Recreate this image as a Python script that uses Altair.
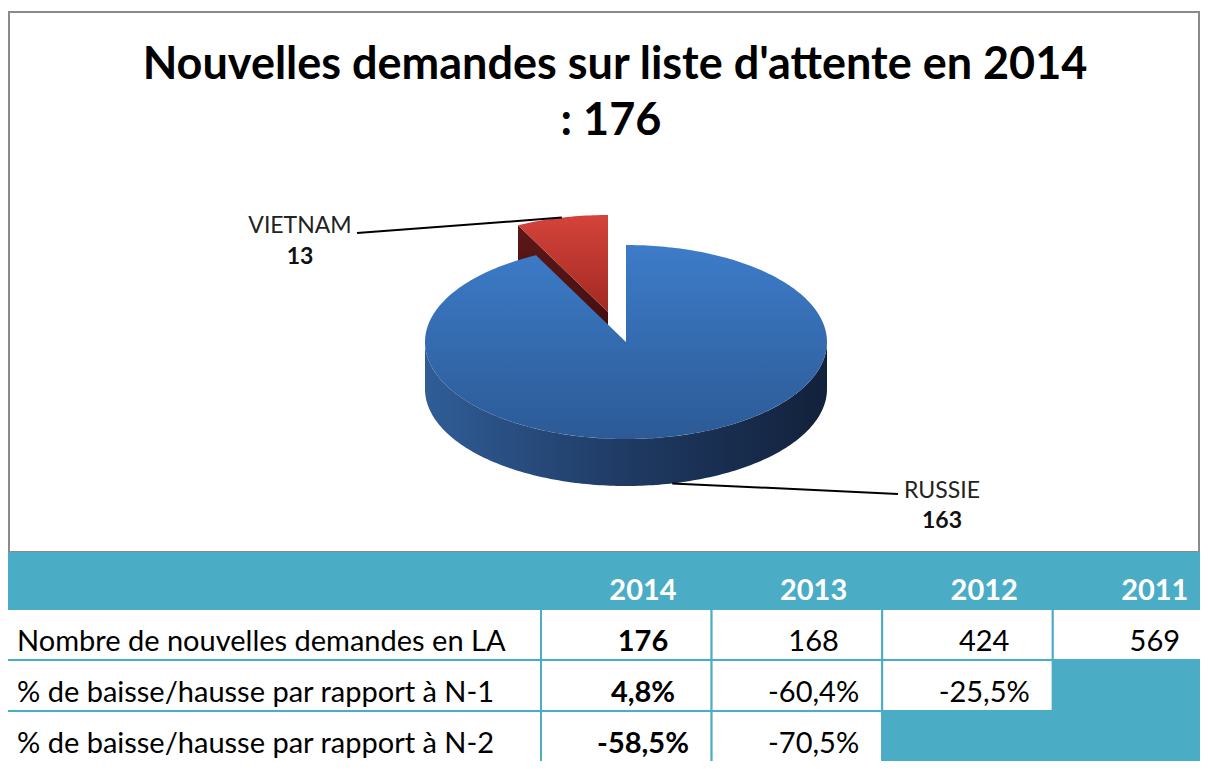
import altair as alt
import numpy as np
import pandas as pd

# ---------------- data ----------------
slice_names = ["RUSSIE", "VIETNAM"]
slice_values = [163, 13]
title_lines = ["Nouvelles demandes sur liste d'attente en 2014", ": 176"]

years = ["2014", "2013", "2012", "2011"]
row_labels = [
    "Nombre de nouvelles demandes en LA",
    "% de baisse/hausse par rapport à N-1",
    "% de baisse/hausse par rapport à N-2",
]
nombre = ["176", "168", "424", "569"]
pct_n1 = ["4,8%", "-60,4%", "-25,5%", ""]
pct_n2 = ["-58,5%", "-70,5%", "", ""]
table_rows = [nombre, pct_n1, pct_n2]

# ---------------- layout (page pixels) ----------------
W, H = 1192, 753
FONT = "Lato"
TEAL = "#4bacc6"
CX, CY, RX, RY, DEPTH = 626, 342, 201, 97, 47
EXPLODE = {"VIETNAM": (-18, -30)}
LABELS = {  # text centre x, leader end x, leader end y, name baseline, value baseline
    "VIETNAM": (300, 357, 233, 233, 264),
    "RUSSIE": (942, 898, 494, 498, 528),
}
TX0, LABEL_X1, COL_W = 7, 541, 170.6
ROW_Y = [553, 609, 660, 711, 770]
TEXT_DY = 42

xs = alt.Scale(domain=[8, 8 + W], range=[0, W], nice=False, zero=False)
ys = alt.Scale(domain=[8, 8 + H], range=[0, H], nice=False, zero=False)


def X(f):
    return alt.X(f, type="quantitative", scale=xs, axis=None)


def Y(f):
    return alt.Y(f, type="quantitative", scale=ys, axis=None)


def grad(stops, horizontal=False):
    return {
        "gradient": "linear",
        "x1": 0, "y1": 0,
        "x2": 1 if horizontal else 0, "y2": 0 if horizontal else 1,
        "stops": [{"offset": o, "color": c} for o, c in stops],
    }


# ---------------- pie geometry from the values ----------------
total = sum(slice_values)
geo = {}
acc = 0
for name, v in zip(slice_names, slice_values):
    a0 = 2 * np.pi * acc / total
    acc += v
    a1 = 2 * np.pi * acc / total
    dx, dy = EXPLODE.get(name, (0, 0))
    geo[name] = (a0, a1, dx, dy)


def pt(a, dx, dy, down=0.0):
    return (CX + dx + RX * np.sin(a), CY + dy - RY * np.cos(a) + down)


rows = []


def add_poly(part, pts):
    for i, (x, y) in enumerate(pts):
        rows.append({"part": part, "i": i, "x": x, "y": y})


for name in slice_names:
    a0, a1, dx, dy = geo[name]
    n = max(6, int(np.degrees(a1 - a0)))
    arc = [pt(a, dx, dy) for a in np.linspace(a0, a1, n)]
    add_poly(name + "_top", [(CX + dx, CY + dy)] + arc + [(CX + dx, CY + dy)])
    s0, s1 = max(a0, np.pi / 2), min(a1, 3 * np.pi / 2)
    if s1 > s0:
        m = max(6, int(np.degrees(s1 - s0)))
        top = [pt(a, dx, dy) for a in np.linspace(s0, s1, m)]
        bot = [pt(a, dx, dy, DEPTH) for a in np.linspace(s1, s0, m)]
        add_poly(name + "_side", top + bot)
    if name == "VIETNAM":
        o = pt(a0, dx, dy)
        add_poly(name + "_wall", [(CX + dx, CY + dy), o, (o[0], o[1] + DEPTH),
                                  (CX + dx, CY + dy + DEPTH)])

poly_df = pd.DataFrame(rows)


def face(part, fill):
    return alt.Chart(poly_df).transform_filter(
        alt.datum.part == part
    ).mark_line(filled=True, fill=fill, strokeWidth=0).encode(
        x=X("x"), y=Y("y"), order=alt.Order("i:Q")
    )


vn_wall = face("VIETNAM_wall", grad([(0, "#5e1818"), (1, "#3c0c0c")]))
vn_top = face("VIETNAM_top", grad([(0, "#d4433b"), (1, "#a32923")]))
ru_side = face("RUSSIE_side", grad([(0, "#305d97"), (0.5, "#1f3a63"), (1, "#12213b")], True))
ru_top = face("RUSSIE_top", grad([(0, "#3d7cc9"), (1, "#2c5a96")]))

# ---------------- leaders and labels ----------------
lead = []
for name, v in zip(slice_names, slice_values):
    a0, a1, dx, dy = geo[name]
    am = (a0 + a1) / 2
    down = DEPTH if np.cos(am) < 0 else 0
    sx, sy = pt(am, dx, dy, down)
    tx, ex, ey, yn, yv = LABELS[name]
    lead.append({"name": name, "value": str(v), "sx": sx, "sy": sy, "ex": ex, "ey": ey,
                 "tx": tx, "yn": yn, "yv": yv})
lead_df = pd.DataFrame(lead)

leaders = alt.Chart(lead_df).mark_rule(color="#000000", strokeWidth=2).encode(
    x=X("sx"), y=Y("sy"), x2="ex", y2="ey")
lab_names = alt.Chart(lead_df).mark_text(font=FONT, fontSize=23, color="#222222",
                                         align="center", baseline="alphabetic").encode(
    x=X("tx"), y=Y("yn"), text="name:N")
lab_vals = alt.Chart(lead_df).mark_text(font=FONT, fontSize=23, fontWeight="bold",
                                        color="#111111", align="center",
                                        baseline="alphabetic").encode(
    x=X("tx"), y=Y("yv"), text="value:N")

# ---------------- chart frame and title ----------------
frame_df = pd.DataFrame([{"x0": 9, "x1": 1199, "y0": 12, "y1": 552}])
frame = alt.Chart(frame_df).mark_rect(fill="white", stroke="#8a8a8a", strokeWidth=2).encode(
    x=X("x0"), x2="x1", y=Y("y0"), y2="y1")

title_df = pd.DataFrame({"t": title_lines, "x": [615, 611], "y": [79, 135]})
title = alt.Chart(title_df).mark_text(font=FONT, fontSize=45, fontWeight="bold",
                                      color="#000000", align="center",
                                      baseline="alphabetic").encode(
    x=X("x"), y=Y("y"), text="t:N")

# ---------------- table ----------------
col_x0 = [LABEL_X1 + k * COL_W for k in range(len(years))]
cells = [{"x0": TX0, "x1": col_x0[-1] + COL_W, "y0": ROW_Y[0], "y1": ROW_Y[1], "f": TEAL}]
texts = []
for k, yv in enumerate(years):
    texts.append({"t": yv, "x": col_x0[k] + 102, "y": ROW_Y[1] - 9, "s": "head"})
for r, (lab, vals) in enumerate(zip(row_labels, table_rows)):
    y0, y1 = ROW_Y[r + 1], ROW_Y[r + 2]
    cells.append({"x0": TX0, "x1": LABEL_X1, "y0": y0, "y1": y1, "f": "white"})
    texts.append({"t": lab, "x": 17, "y": y0 + TEXT_DY, "s": "label"})
    for k, val in enumerate(vals):
        cells.append({"x0": col_x0[k], "x1": col_x0[k] + COL_W, "y0": y0, "y1": y1,
                      "f": "white" if val else TEAL})
        if val:
            texts.append({"t": val, "x": col_x0[k] + 102, "y": y0 + TEXT_DY,
                          "s": "bold" if k == 0 else "num"})
cells_df = pd.DataFrame(cells)
texts_df = pd.DataFrame(texts)

table_cells = alt.Chart(cells_df).mark_rect(stroke=TEAL, strokeWidth=2).encode(
    x=X("x0"), x2="x1", y=Y("y0"), y2="y1", fill=alt.Fill("f:N", scale=None))


def ttext(style, align, weight, color):
    return alt.Chart(texts_df).transform_filter(alt.datum.s == style).mark_text(
        font=FONT, fontSize=29, fontWeight=weight, color=color, align=align,
        baseline="alphabetic").encode(x=X("x"), y=Y("y"), text="t:N")


t_head = ttext("head", "center", "bold", "white")
t_label = ttext("label", "left", "normal", "#000000")
t_num = ttext("num", "center", "normal", "#000000")
t_bold = ttext("bold", "center", "bold", "#000000")

chart = alt.layer(
    frame, title, vn_wall, vn_top, ru_side, ru_top, leaders, lab_names, lab_vals,
    table_cells, t_head, t_label, t_num, t_bold,
).properties(width=W, height=H, padding=0, autosize="none", background="white"
).configure_view(stroke=None)

chart.save("out.html", embed_options={"renderer": "svg", "actions": False})
